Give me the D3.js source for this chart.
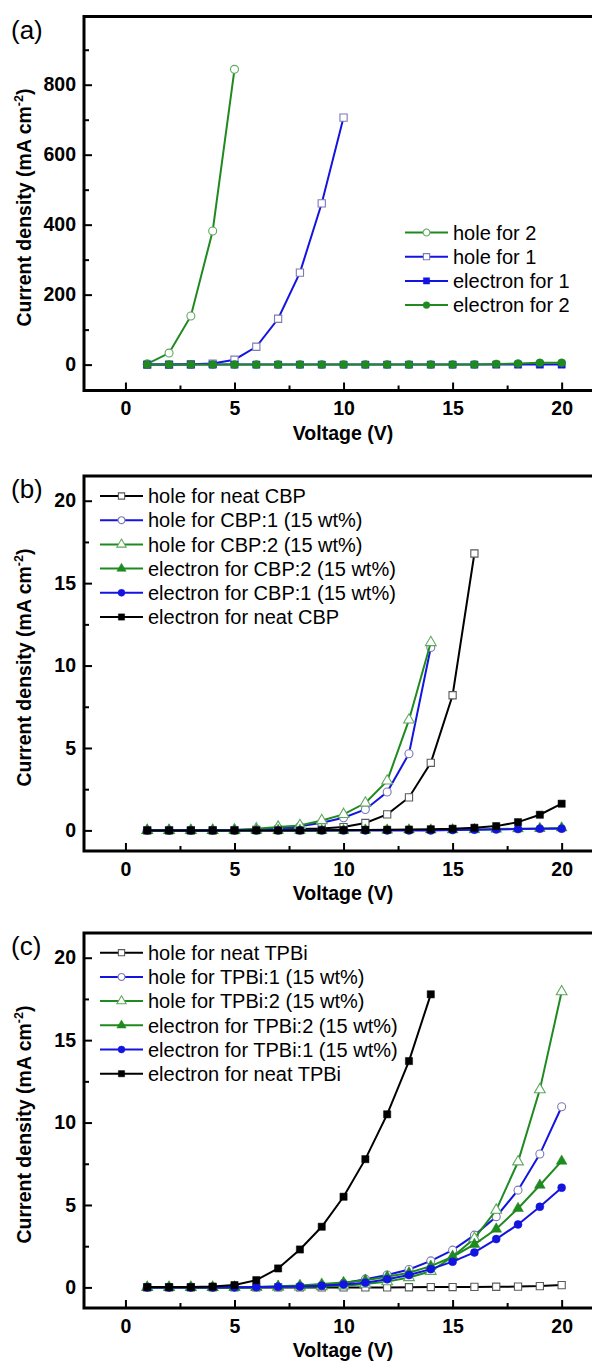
<!DOCTYPE html>
<html>
<head>
<meta charset="utf-8">
<script src="https://cdn.jsdelivr.net/npm/d3@7"></script>
<style>
  body { margin: 0; background: #fff; }
  svg { display: block; }
  text { font-family: "Liberation Sans", Arial, sans-serif; }
</style>
</head>
<body>
<svg id="chart" width="592" height="1362"></svg>
<script>
// voltages (V)
const volt5 = [1, 2, 3, 4, 5];
const volt10 = [1, 2, 3, 4, 5, 6, 7, 8, 9, 10];
const volt14 = [1, 2, 3, 4, 5, 6, 7, 8, 9, 10, 11, 12, 13, 14];
const volt16 = [1, 2, 3, 4, 5, 6, 7, 8, 9, 10, 11, 12, 13, 14, 15, 16];
const volt20 = [1, 2, 3, 4, 5, 6, 7, 8, 9, 10, 11, 12, 13, 14, 15, 16, 17, 18, 19, 20];

// panel (a) current density (mA cm-2)
const aHole2 = [2, 33, 139, 382, 844];
const aHole1 = [0, 0, 1, 3, 14, 51, 131, 263, 461, 706];
const aElec1 = [0, 0, 0, 0, 0, 0, 0, 0, 0, 0, 0, 0, 0, 0, 0, 0, 0, 0, 0, 0];
const aElec2 = [0, 0, 0, 0, 0, 0, 0, 0, 0, 0, 0, 0, 0, 0, 0, 0.5, 2, 3, 5, 5];

// panel (b)
const bHoleNeat = [0, 0, 0, 0.01, 0.02, 0.03, 0.05, 0.08, 0.12, 0.2, 0.45, 0.97, 2.0, 4.1, 8.2, 16.8];
const bHole1 = [0, 0, 0, 0, 0.02, 0.05, 0.12, 0.25, 0.47, 0.77, 1.27, 2.33, 4.65, 11.1];
const bHole2 = [0, 0, 0, 0.01, 0.03, 0.1, 0.2, 0.3, 0.6, 0.97, 1.66, 3.0, 6.7, 11.4];
const bElec2 = [0, 0, 0, 0, 0, 0, 0, 0, 0, 0, 0.02, 0.02, 0.03, 0.03, 0.04, 0.05, 0.08, 0.1, 0.12, 0.15];
const bElec1 = [0, 0, 0, 0, 0, 0, 0, 0, 0, 0, 0, 0, 0, 0, 0.02, 0.04, 0.06, 0.08, 0.1, 0.1];
const bElecNeat = [0, 0, 0, 0, 0, 0, 0, 0, 0.01, 0.02, 0.03, 0.04, 0.05, 0.07, 0.1, 0.16, 0.26, 0.5, 0.95, 1.62];

// panel (c)
const cHoleNeat = [0, 0, 0, 0, 0, 0, 0, 0, 0, 0, 0, 0, 0.01, 0.02, 0.02, 0.03, 0.04, 0.05, 0.08, 0.14];
const cHole1 = [0, 0, 0, 0, 0, 0.01, 0.03, 0.06, 0.12, 0.25, 0.5, 0.75, 1.09, 1.61, 2.26, 3.17, 4.29, 5.9, 8.09, 10.96];
const cHole2 = [0, 0, 0, 0, 0, 0.01, 0.02, 0.03, 0.05, 0.1, 0.2, 0.35, 0.6, 0.98, 1.86, 2.97, 4.69, 7.62, 12.0, 17.94];
const cElec2 = [0, 0, 0, 0, 0.01, 0.03, 0.07, 0.12, 0.2, 0.3, 0.44, 0.65, 0.89, 1.29, 1.86, 2.61, 3.54, 4.79, 6.2, 7.66];
const cElec1 = [0, 0, 0, 0, 0.01, 0.02, 0.04, 0.06, 0.1, 0.18, 0.28, 0.49, 0.75, 1.11, 1.56, 2.12, 2.93, 3.82, 4.89, 6.05];
const cElecNeat = [0.02, 0.02, 0.02, 0.05, 0.14, 0.44, 1.15, 2.3, 3.68, 5.5, 7.78, 10.5, 13.73, 17.78];

// tick values
const xMajor = [0, 5, 10, 15, 20];
const xMinor = [2.5, 7.5, 12.5, 17.5];
const aYMajor = [0, 200, 400, 600, 800];
const aYMinor = [100, 300, 500, 700, 900];
const bcYMajor = [0, 5, 10, 15, 20];
const bcYMinor = [2.5, 7.5, 12.5, 17.5];

const green = "#1f8a1f", blue = "#1414e0", black = "#000";
const hollowStroke = { [green]: "#5fa85f", [blue]: "#7a7ab4", [black]: "#5a5a5a" };

const panels = [
  {
    letter: "(a)", top: 16.5, bottom: 390.5, yDomain: [-74, 995],
    yMajor: aYMajor, yMinor: aYMinor,
    legend: { x: 405, y: 232.5 },
    series: [
      { name: "hole for 2", color: green, shape: d3.symbolCircle, filled: false, xs: volt5, ys: aHole2 },
      { name: "hole for 1", color: blue, shape: d3.symbolSquare, filled: false, xs: volt10, ys: aHole1 },
      { name: "electron for 1", color: blue, shape: d3.symbolSquare, filled: true, xs: volt20, ys: aElec1 },
      { name: "electron for 2", color: green, shape: d3.symbolCircle, filled: true, xs: volt20, ys: aElec2 }
    ]
  },
  {
    letter: "(b)", top: 476, bottom: 851, yDomain: [-1.25, 21.5],
    yMajor: bcYMajor, yMinor: bcYMinor,
    legend: { x: 100, y: 496 },
    series: [
      { name: "hole for neat CBP", color: black, shape: d3.symbolSquare, filled: false, xs: volt16, ys: bHoleNeat },
      { name: "hole for CBP:1 (15 wt%)", color: blue, shape: d3.symbolCircle, filled: false, xs: volt14, ys: bHole1 },
      { name: "hole for CBP:2 (15 wt%)", color: green, shape: d3.symbolTriangle, filled: false, xs: volt14, ys: bHole2 },
      { name: "electron for CBP:2 (15 wt%)", color: green, shape: d3.symbolTriangle, filled: true, xs: volt20, ys: bElec2 },
      { name: "electron for CBP:1 (15 wt%)", color: blue, shape: d3.symbolCircle, filled: true, xs: volt20, ys: bElec1 },
      { name: "electron for neat CBP", color: black, shape: d3.symbolSquare, filled: true, xs: volt20, ys: bElecNeat }
    ]
  },
  {
    letter: "(c)", top: 933, bottom: 1308, yDomain: [-1.25, 21.5],
    yMajor: bcYMajor, yMinor: bcYMinor,
    legend: { x: 100, y: 952.7 },
    series: [
      { name: "hole for neat TPBi", color: black, shape: d3.symbolSquare, filled: false, xs: volt20, ys: cHoleNeat },
      { name: "hole for TPBi:1 (15 wt%)", color: blue, shape: d3.symbolCircle, filled: false, xs: volt20, ys: cHole1 },
      { name: "hole for TPBi:2 (15 wt%)", color: green, shape: d3.symbolTriangle, filled: false, xs: volt20, ys: cHole2 },
      { name: "electron for TPBi:2 (15 wt%)", color: green, shape: d3.symbolTriangle, filled: true, xs: volt20, ys: cElec2 },
      { name: "electron for TPBi:1 (15 wt%)", color: blue, shape: d3.symbolCircle, filled: true, xs: volt20, ys: cElec1 },
      { name: "electron for neat TPBi", color: black, shape: d3.symbolSquare, filled: true, xs: volt14, ys: cElecNeat }
    ]
  }
];

const svg = d3.select("#chart");
svg.append("rect").attr("width", 592).attr("height", 1362).attr("fill", "#fff");

const left = 84, right = 602;
const x = d3.scaleLinear().domain([-1.9, 21.85]).range([left, right]);

// marker path, area scaled per shape
function markerPath(shape, scale) {
  let area = shape === d3.symbolSquare ? 52 : shape === d3.symbolCircle ? 50 : 50;
  return d3.symbol().type(shape).size(area * scale)();
}

function styleMarker(sel, s) {
  sel.attr("fill", s.filled ? s.color : "#fff")
    .attr("stroke", s.filled ? s.color : hollowStroke[s.color])
    .attr("stroke-width", s.filled ? 0.5 : 1.1);
}

panels.forEach(p => {
  const y = d3.scaleLinear().domain(p.yDomain).range([p.bottom, p.top]);
  const g = svg.append("g");

  // minor ticks
  g.append("g").attr("transform", `translate(0,${p.bottom})`)
    .call(d3.axisBottom(x).tickValues(xMinor).tickSize(-5).tickSizeOuter(0).tickFormat(""))
    .call(a => a.select(".domain").remove())
    .selectAll("line").attr("stroke-width", 2);
  g.append("g").attr("transform", `translate(${left},0)`)
    .call(d3.axisLeft(y).tickValues(p.yMinor).tickSize(-5).tickSizeOuter(0).tickFormat(""))
    .call(a => a.select(".domain").remove())
    .selectAll("line").attr("stroke-width", 2);

  // major ticks + labels
  const xa = g.append("g").attr("transform", `translate(0,${p.bottom})`)
    .call(d3.axisBottom(x).tickValues(xMajor).tickSize(-8).tickSizeOuter(0).tickPadding(11))
    .call(a => a.select(".domain").remove());
  const ya = g.append("g").attr("transform", `translate(${left},0)`)
    .call(d3.axisLeft(y).tickValues(p.yMajor).tickSize(-8).tickSizeOuter(0).tickPadding(8))
    .call(a => a.select(".domain").remove());
  [xa, ya].forEach(a => {
    a.selectAll("line").attr("stroke-width", 2);
    a.selectAll("text").attr("font-size", 19.5).attr("font-weight", "bold")
      .attr("font-family", "Liberation Sans, Arial, sans-serif").attr("fill", "#000");
  });

  // frame
  g.append("rect")
    .attr("x", left).attr("y", p.top)
    .attr("width", right - left).attr("height", p.bottom - p.top)
    .attr("fill", "none").attr("stroke", "#000").attr("stroke-width", 3);

  // series
  const line = d3.line().x(d => x(d[0])).y(d => y(d[1]));
  p.series.forEach(s => {
    const pts = s.xs.map((v, i) => [v, s.ys[i]]);
    g.append("path").datum(pts)
      .attr("d", line).attr("fill", "none")
      .attr("stroke", s.color).attr("stroke-width", 2);
    g.selectAll(null).data(pts).enter().append("path")
      .attr("d", markerPath(s.shape, 1))
      .attr("transform", d => `translate(${x(d[0])},${y(d[1])})`)
      .call(styleMarker, s);
  });

  // legend
  const lg = g.append("g").attr("transform", `translate(${p.legend.x},${p.legend.y})`);
  p.series.forEach((s, i) => {
    const row = lg.append("g").attr("transform", `translate(0,${i * 24.2})`);
    row.append("line").attr("x1", 0).attr("x2", 43).attr("y1", 0).attr("y2", 0)
      .attr("stroke", s.color).attr("stroke-width", 2);
    row.append("path").attr("d", markerPath(s.shape, 0.75))
      .attr("transform", "translate(21.5,0)")
      .call(styleMarker, s);
    row.append("text").attr("x", 48).attr("y", 7.2)
      .attr("font-size", 20).attr("fill", "#000").text(s.name);
  });

  // panel letter
  g.append("text").attr("x", 11).attr("y", p.top + 22)
    .attr("font-size", 26).text(p.letter);

  // axis titles
  g.append("text").attr("x", (left + right) / 2).attr("y", p.bottom + 49)
    .attr("text-anchor", "middle").attr("font-size", 19.5).attr("font-weight", "bold")
    .text("Voltage (V)");
  const yt = g.append("text")
    .attr("transform", `translate(30.5,${(p.top + p.bottom) / 2 + 4}) rotate(-90)`)
    .attr("text-anchor", "middle").attr("font-size", 19.5).attr("font-weight", "bold");
  yt.append("tspan").text("Current density (mA cm");
  yt.append("tspan").attr("font-size", 12.5).attr("dy", -8).text("-2");
  yt.append("tspan").attr("dy", 8).text(")");
});
</script>
</body>
</html>
